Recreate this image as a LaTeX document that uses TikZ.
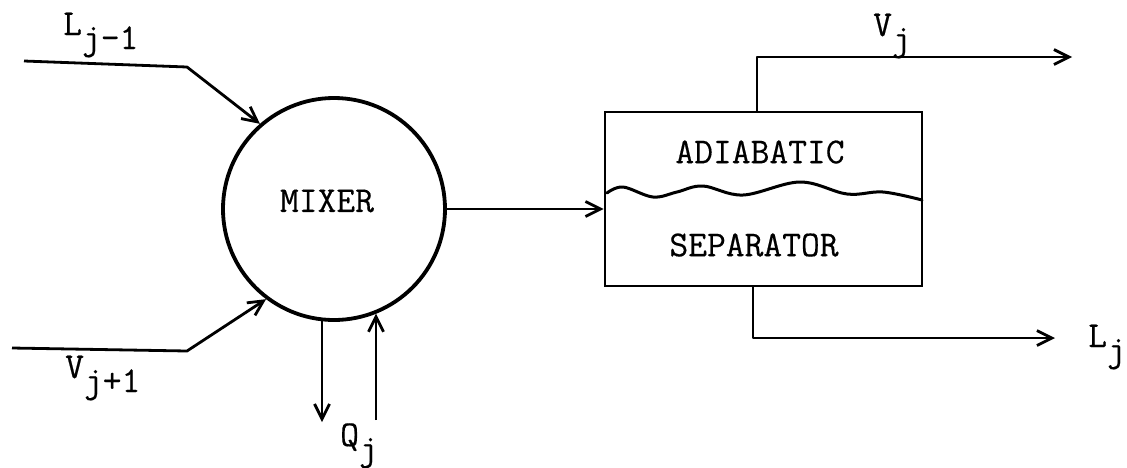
\documentclass[tikz,border=0pt]{standalone}
\usepackage{fontspec}
\setmonofont{Latin Modern Mono}[FakeBold=0.4]
\usetikzlibrary{arrows.meta}
\newcommand\stlab[2]{#1\raisebox{-14pt}{#2}}
\begin{document}
\begin{tikzpicture}[x=1pt,y=-1pt,
  thin line/.style={line width=2.8pt, line join=round},
  flow/.style={thin line, -{Straight Barb[length=15pt,width=15pt]}},
  txt/.style={font=\ttfamily\fontsize{36.5}{40}\selectfont, inner sep=0pt},
  lab/.style={txt, anchor=base west}]
\useasboundingbox (0,0) rectangle (1127,467);

% units
\node[circle, draw, line width=3.8pt, minimum size=222pt, inner sep=0pt] (mixer) at (334,209) {};
\node[txt] (mixtxt) at (327,201) {MIXER};
\node[draw, line width=2.8pt, minimum width=317pt, minimum height=174pt, inner sep=0pt] (sep) at (763.5,199) {};
\node[txt] (adi) at (760,152) {ADIABATIC};
\node[txt] (septxt) at (754,245) {SEPARATOR};
\draw[line width=3pt, line cap=round] plot[smooth, tension=0.6] coordinates
  {(607,193) (623,187) (653,197) (677,192) (703,186) (743,195) (800,182) (847,194) (883,192) (922,200)};

% L_{j-1} feed
\coordinate (lin) at (24,61);
\coordinate (lbend) at (187,67);
\draw[flow] (lin) -- (lbend) -- (mixer.131.7);
\node[lab] (llab) at (63,35) {\stlab{L}{j-1}};

% V_{j+1} feed
\coordinate (vin) at (12,348);
\coordinate (vbend) at (187,351);
\draw[flow] (vin) -- (vbend) -- (mixer.233.4);
\node[lab] (vlab) at (65,378) {\stlab{V}{j+1}};

% Q_j
\coordinate (qout) at (322,422);
\coordinate (qin) at (376,420);
\draw[flow] (qout |- mixer.263.8) -- (qout);
\draw[flow] (qin) -- (qin |- mixer.292.6);
\node[lab] (qlab) at (340,446) {\stlab{Q}{j}};

% mixer to separator
\draw[flow] (mixer.east) -- (mixer.east -| sep.west);

% V_j
\coordinate (vtop) at (757,57);
\coordinate (vout) at (1072,57);
\draw[flow] (vtop |- sep.north) -- (vtop) -- (vout);
\node[lab] (vjlab) at (873,36) {\stlab{V}{j}};

% L_j
\coordinate (lbot) at (753,338);
\coordinate (lout) at (1055,338);
\draw[flow] (lbot |- sep.south) -- (lbot) -- (lout);
\node[lab] (ljlab) at (1088,347) {\stlab{L}{j}};
\end{tikzpicture}
\end{document}
